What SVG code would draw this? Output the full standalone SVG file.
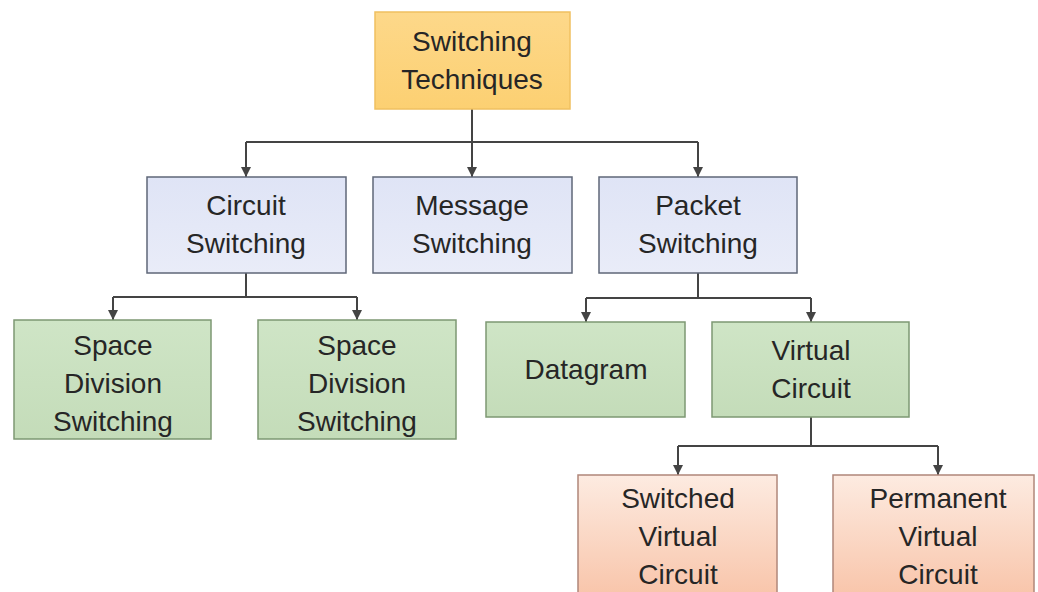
<svg xmlns="http://www.w3.org/2000/svg" width="1038" height="592" viewBox="0 0 1038 592">
<style>
.t{font-family:"Liberation Sans",Arial,sans-serif;font-size:28px;fill:#262626;text-anchor:middle}
.c{fill:none;stroke:#444;stroke-width:2}
.o{fill:url(#go);stroke:#f0c060;stroke-width:1.5}
.b{fill:url(#gb);stroke:#5f6778;stroke-width:1.5}
.g{fill:url(#gg);stroke:#7d9873;stroke-width:1.5}
.p{fill:url(#gp);stroke:#b0877a;stroke-width:1.5}
</style>
<defs>
<linearGradient id="go" x1="0" y1="0" x2="0" y2="1"><stop offset="0" stop-color="#fdd88a"/><stop offset="1" stop-color="#fcd072"/></linearGradient>
<linearGradient id="gb" x1="0" y1="0" x2="0" y2="1"><stop offset="0" stop-color="#dfe4f6"/><stop offset="1" stop-color="#e9ecf8"/></linearGradient>
<linearGradient id="gg" x1="0" y1="0" x2="0" y2="1"><stop offset="0" stop-color="#cfe5c6"/><stop offset="1" stop-color="#c4dcb9"/></linearGradient>
<linearGradient id="gp" x1="0" y1="0" x2="0" y2="1"><stop offset="0" stop-color="#fdebe1"/><stop offset="1" stop-color="#f8c2a6"/></linearGradient>
<marker id="ah" viewBox="0 0 10 10" refX="10" refY="5" markerWidth="5" markerHeight="5" orient="auto" markerUnits="strokeWidth"><path d="M0,0 L10,5 L0,10 z" fill="#444"/></marker>
</defs>
<rect width="1038" height="592" fill="#ffffff"/>
<g id="connectors">
<path class="c" d="M472,109 V142"/>
<path class="c" d="M246,142 H698"/>
<path class="c" d="M246,142 V177" marker-end="url(#ah)"/>
<path class="c" d="M472,142 V177" marker-end="url(#ah)"/>
<path class="c" d="M698,142 V177" marker-end="url(#ah)"/>
<path class="c" d="M246,273 V297"/>
<path class="c" d="M113,297 H357"/>
<path class="c" d="M113,297 V320" marker-end="url(#ah)"/>
<path class="c" d="M357,297 V320" marker-end="url(#ah)"/>
<path class="c" d="M698,273 V298"/>
<path class="c" d="M586,298 H811"/>
<path class="c" d="M586,298 V322" marker-end="url(#ah)"/>
<path class="c" d="M811,298 V322" marker-end="url(#ah)"/>
<path class="c" d="M811,417 V446"/>
<path class="c" d="M678,446 H938"/>
<path class="c" d="M678,446 V475" marker-end="url(#ah)"/>
<path class="c" d="M938,446 V475" marker-end="url(#ah)"/>
</g>
<g id="n-root"><rect class="o" x="375" y="12" width="195" height="97"/><text class="t" x="472" y="51">Switching</text><text class="t" x="472" y="89">Techniques</text></g>
<g id="n-circuit"><rect class="b" x="147" y="177" width="199" height="96"/><text class="t" x="246" y="215">Circuit</text><text class="t" x="246" y="253">Switching</text></g>
<g id="n-message"><rect class="b" x="373" y="177" width="199" height="96"/><text class="t" x="472" y="215">Message</text><text class="t" x="472" y="253">Switching</text></g>
<g id="n-packet"><rect class="b" x="599" y="177" width="198" height="96"/><text class="t" x="698" y="215">Packet</text><text class="t" x="698" y="253">Switching</text></g>
<g id="n-space1"><rect class="g" x="14" y="320" width="197" height="119"/><text class="t" x="113" y="355">Space</text><text class="t" x="113" y="393">Division</text><text class="t" x="113" y="431">Switching</text></g>
<g id="n-space2"><rect class="g" x="258" y="320" width="198" height="119"/><text class="t" x="357" y="355">Space</text><text class="t" x="357" y="393">Division</text><text class="t" x="357" y="431">Switching</text></g>
<g id="n-datagram"><rect class="g" x="486" y="322" width="199" height="95"/><text class="t" x="586" y="379">Datagram</text></g>
<g id="n-virtual"><rect class="g" x="712" y="322" width="197" height="95"/><text class="t" x="811" y="360">Virtual</text><text class="t" x="811" y="398">Circuit</text></g>
<g id="n-svc"><rect class="p" x="578" y="475" width="199" height="130"/><text class="t" x="678" y="508">Switched</text><text class="t" x="678" y="546">Virtual</text><text class="t" x="678" y="584">Circuit</text></g>
<g id="n-pvc"><rect class="p" x="833" y="475" width="201" height="130"/><text class="t" x="938" y="508">Permanent</text><text class="t" x="938" y="546">Virtual</text><text class="t" x="938" y="584">Circuit</text></g>
</svg>
